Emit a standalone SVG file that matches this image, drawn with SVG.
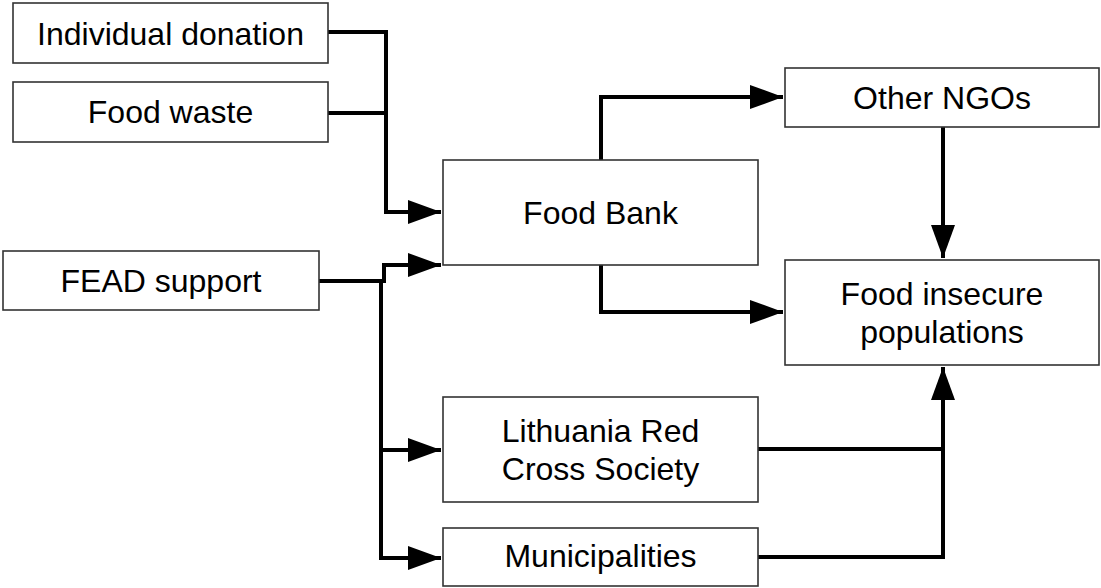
<svg xmlns="http://www.w3.org/2000/svg" width="1101" height="588" viewBox="0 0 1101 588">
<style>
.box{fill:#fff;stroke:#333;stroke-width:1.6}
.t{font-family:"Liberation Sans",Arial,sans-serif;font-size:32px;fill:#000;text-anchor:middle}
.c{fill:none;stroke:#000;stroke-width:4;stroke-linejoin:miter}
</style>
<defs>
<marker id="ah" markerUnits="userSpaceOnUse" markerWidth="34" markerHeight="26" refX="33" refY="12" orient="auto" viewBox="0 0 34 24">
<path d="M0,0 L33,12 L0,24 Z" fill="#000"/>
</marker>
</defs>
<rect width="1101" height="588" fill="#fff"/>
<g id="connectors">
<path class="c" d="M328,32 H386 V212 H441" marker-end="url(#ah)"/>
<path class="c" d="M328,113 H386"/>
<path class="c" d="M319,281 H384 V265 H441" marker-end="url(#ah)"/>
<path class="c" d="M381,281 V558 H441" marker-end="url(#ah)"/>
<path class="c" d="M381,450 H441" marker-end="url(#ah)"/>
<path class="c" d="M601,160 V97 H783" marker-end="url(#ah)"/>
<path class="c" d="M601,265 V312 H783" marker-end="url(#ah)"/>
<path class="c" d="M943,127 V258" marker-end="url(#ah)"/>
<path class="c" d="M758,557 H943 V367" marker-end="url(#ah)"/>
<path class="c" d="M758,449 H943"/>
</g>
<g id="individual-donation"><rect class="box" x="13" y="3" width="315" height="60"/><text class="t" x="170.5" y="45">Individual donation</text></g>
<g id="food-waste"><rect class="box" x="13" y="82" width="315" height="60"/><text class="t" x="170.5" y="123">Food waste</text></g>
<g id="fead-support"><rect class="box" x="3" y="251" width="316" height="59"/><text class="t" x="161" y="292">FEAD support</text></g>
<g id="food-bank"><rect class="box" x="443" y="160" width="315" height="105"/><text class="t" x="600.5" y="224">Food Bank</text></g>
<g id="other-ngos"><rect class="box" x="785" y="68" width="314" height="59"/><text class="t" x="942" y="109">Other NGOs</text></g>
<g id="food-insecure"><rect class="box" x="785" y="260" width="314" height="105"/><text class="t" x="942" y="305">Food insecure</text><text class="t" x="942" y="343">populations</text></g>
<g id="red-cross"><rect class="box" x="443" y="397" width="315" height="105"/><text class="t" x="600.5" y="442">Lithuania Red</text><text class="t" x="600.5" y="480">Cross Society</text></g>
<g id="municipalities"><rect class="box" x="443" y="528" width="315" height="58"/><text class="t" x="600.5" y="567">Municipalities</text></g>
</svg>
